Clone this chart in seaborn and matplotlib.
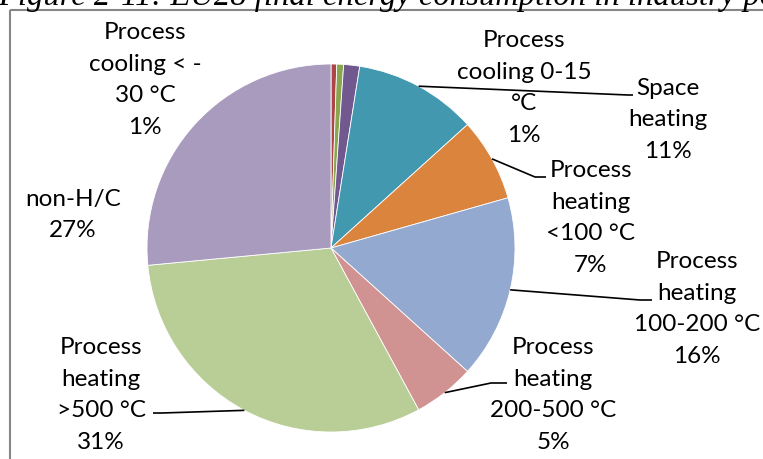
import matplotlib
matplotlib.use("Agg")
import matplotlib.pyplot as plt
import seaborn as sns
import numpy as np
from matplotlib.patches import Rectangle

# ---- data ----
categories = ["Process cooling < -30 °C", "", "Process cooling 0-15 °C", "Space heating",
              "Process heating <100 °C", "Process heating 100-200 °C",
              "Process heating 200-500 °C", "Process heating >500 °C", "non-H/C"]
values = [0.5, 0.6, 1.4, 10.8, 7.3, 16.1, 5.4, 31.4, 26.5]
label_texts = ["Process\ncooling < -\n30 °C\n1%", "", "Process\ncooling 0-15\n°C\n1%",
               "Space\nheating\n11%", "Process\nheating\n<100 °C\n7%",
               "Process\nheating\n100-200 °C\n16%", "Process\nheating\n200-500 °C\n5%",
               "Process\nheating\n>500 °C\n31%", "non-H/C\n27%"]
colors = ["#AA4643", "#89A54E", "#71588F", "#4198AF", "#DB843D",
          "#93A9CF", "#D19392", "#B9CD96", "#A99BBD"]
title = "Figure 2-11: EU28 final energy consumption in industry po"

sns.set_theme(style="white")
plt.rcParams['font.family'] = ['Lato', 'DejaVu Sans']

W, H = 763, 460
fig = plt.figure(figsize=(W / 100, H / 100), dpi=100)
ax = fig.add_axes([0, 0, 1, 1])

cx, cy, R = 331, 249, 184
wedges, _ = ax.pie(values, colors=colors, startangle=-90, counterclock=True,
                   center=(cx, cy), radius=R,
                   wedgeprops=dict(edgecolor="white", linewidth=0.6))
ax.set_xlim(0, W)
ax.set_ylim(H, 0)
ax.set_aspect("equal")
ax.axis("off")

# label layout: (center x, center y, leader end (elbow x, elbow y, end x) or None)
layout = [
    (145, 80, None),
    None,
    (524, 88, None),
    (668, 120, (628, 96, 633)),
    (591, 218, (535, 178, 546)),
    (697, 309, (640, 301, 652)),
    (553, 395, (491, 384, 507)),
    (101, 395, (162, 414, 153)),
    (73, 215, None),
]

cum = np.cumsum([0] + values)
for i, lay in enumerate(layout):
    if lay is None or not label_texts[i]:
        continue
    x, y, lead = lay
    ax.text(x, y, label_texts[i], ha="center", va="center", fontsize=17.5,
            color="black", linespacing=1.61)
    if lead is not None:
        mid = (cum[i] + cum[i + 1]) / 2 / 100 * 2 * np.pi
        sx = cx + R * np.sin(mid)
        sy = cy - R * np.cos(mid)
        ex, ey, fx = lead
        ax.plot([sx, ex, fx], [sy, ey, ey], color="black", lw=1.2,
                solid_capstyle="butt")

# chart frame
ax.add_patch(Rectangle((10, 11), 800, 500, fill=False, edgecolor="#868686",
                       linewidth=1.5, clip_on=True))

ax.text(-2, 5, title, family="Liberation Serif", style="italic", fontsize=23.5,
        ha="left", va="baseline", color="black")

fig.savefig("out.png", dpi=100)
